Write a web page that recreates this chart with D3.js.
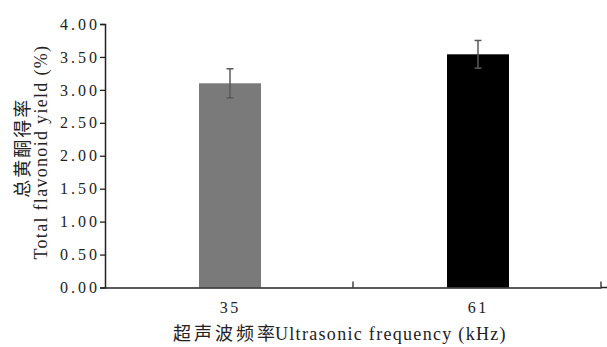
<!DOCTYPE html>
<html>
<head>
<meta charset="utf-8">
<script src="https://cdn.jsdelivr.net/npm/d3@7"></script>
<style>
  body { margin: 0; background: #fff; }
</style>
</head>
<body>
<script>
const categories = ["35", "61"];
const values = [3.10, 3.54];
const errors = [0.22, 0.21];
const barColors = ["#7a7a7a", "#000000"];
const yTicks = [0, 0.5, 1, 1.5, 2, 2.5, 3, 3.5, 4];

const width = 607;
const height = 347;
const margin = {left: 105, right: 6, top: 24, bottom: 59.5};
const serif = "'Liberation Serif', 'Times New Roman', serif";
const cjk = "'Noto Sans CJK SC'";

// per-character gap via dx lists (letter-spacing swaps the font here)
const gaps = (str, s) => Array.from(str, (c, i) => i === 0 ? 0 : s).join(" ");

const svg = d3.select("body")
    .append("svg")
    .attr("width", width)
    .attr("height", height)
    .style("font-family", serif);

// X scale
const x = d3.scaleBand()
    .domain(categories)
    .range([margin.left, width - margin.right])
    .padding(0);

// Y scale
const y = d3.scaleLinear()
    .domain([0, 4])
    .range([height - margin.bottom, margin.top]);

const barW = 62;
const cx = d => x(d.cat) + x.bandwidth() / 2 + 1;
const data = categories.map((c, i) => ({cat: c, v: values[i], e: errors[i], color: barColors[i]}));

// bars
svg.selectAll("rect.bar")
    .data(data)
    .enter()
    .append("rect")
    .attr("class", "bar")
    .attr("x", d => cx(d) - barW / 2)
    .attr("y", d => y(d.v))
    .attr("width", barW)
    .attr("height", d => y(0) - y(d.v))
    .attr("fill", d => d.color);

// error bars
const eg = svg.selectAll("g.err")
    .data(data)
    .enter()
    .append("g")
    .attr("class", "err")
    .attr("stroke", "#5a5a5a")
    .attr("stroke-width", 1.5);

eg.append("line")
    .attr("x1", cx).attr("x2", cx)
    .attr("y1", d => y(d.v + d.e))
    .attr("y2", d => y(d.v - d.e));
eg.append("line")
    .attr("x1", d => cx(d) - 3.5).attr("x2", d => cx(d) + 3.5)
    .attr("y1", d => y(d.v + d.e))
    .attr("y2", d => y(d.v + d.e));
eg.append("line")
    .attr("x1", d => cx(d) - 3.5).attr("x2", d => cx(d) + 3.5)
    .attr("y1", d => y(d.v - d.e))
    .attr("y2", d => y(d.v - d.e));

// x axis
const xAxis = svg.append("g")
    .attr("transform", `translate(0,${y(0)})`)
    .call(d3.axisBottom(x).tickSize(0).tickPadding(14));
xAxis.select(".domain").attr("stroke", "#222").attr("stroke-width", 1.5);
xAxis.selectAll("text")
    .attr("font-family", serif)
    .attr("font-size", 16)
    .attr("dx", d => gaps(d, 2.5))
    .attr("fill", "#222");

// axis line runs a bit past the last tick
svg.append("line")
    .attr("x1", x.range()[1]).attr("x2", width)
    .attr("y1", y(0)).attr("y2", y(0))
    .attr("stroke", "#222").attr("stroke-width", 1.5);

// band boundary ticks
svg.selectAll("line.bt")
    .data(categories.slice(1).map(c => x(c)).concat([x.range()[1]]))
    .enter()
    .append("line")
    .attr("class", "bt")
    .attr("x1", d => d).attr("x2", d => d)
    .attr("y1", y(0)).attr("y2", y(0) - 6)
    .attr("stroke", "#222")
    .attr("stroke-width", 1.3);

// y axis
const fmt = d3.format(".2f");
const yAxis = svg.append("g")
    .attr("transform", `translate(${margin.left},0)`)
    .call(d3.axisLeft(y).tickValues(yTicks).tickFormat(fmt).tickSizeOuter(0).tickSize(5).tickPadding(3));
yAxis.select(".domain").attr("stroke", "#222").attr("stroke-width", 1.5);
yAxis.selectAll(".tick line").attr("stroke", "#222").attr("stroke-width", 1.3);
yAxis.selectAll("text")
    .attr("font-family", serif)
    .attr("font-size", 16)
    .attr("dx", d => gaps(fmt(d), 3))
    .attr("fill", "#222");

// axis titles
const xTitleCn = "超声波频率";
const xTitleEn = "Ultrasonic frequency (kHz)";
const xt = svg.append("text")
    .attr("x", 173)
    .attr("y", 340)
    .attr("fill", "#222")
    .attr("font-size", 18);
xt.append("tspan").attr("font-family", cjk).attr("dx", gaps(xTitleCn, 3)).text(xTitleCn);
xt.append("tspan").attr("font-family", serif).attr("dx", gaps(xTitleEn, 1.3)).text(xTitleEn);

const yTitleCn = "总黄酮得率";
const yTitleEn = "Total flavonoid yield (%)";
const mid = (y(0) + y(4)) / 2;
svg.append("text")
    .attr("transform", `translate(29,${mid - 7}) rotate(-90)`)
    .attr("text-anchor", "middle")
    .attr("fill", "#222")
    .attr("font-family", cjk)
    .attr("font-size", 18)
    .attr("dx", gaps(yTitleCn, 2))
    .text(yTitleCn);
svg.append("text")
    .attr("transform", `translate(47,${mid - 3}) rotate(-90)`)
    .attr("text-anchor", "middle")
    .attr("fill", "#222")
    .attr("font-family", serif)
    .attr("font-size", 18)
    .attr("dx", gaps(yTitleEn, 1.3))
    .text(yTitleEn);
</script>
</body>
</html>
